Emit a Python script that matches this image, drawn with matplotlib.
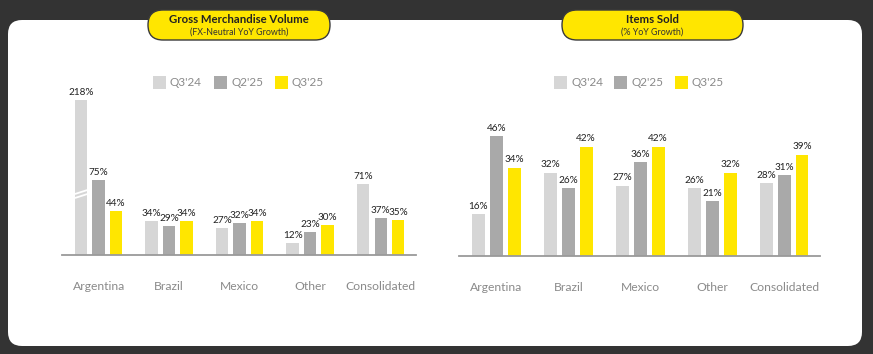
import matplotlib
matplotlib.use("Agg")
import matplotlib.pyplot as plt
from matplotlib.patches import FancyBboxPatch, Rectangle
import numpy as np

plt.rcParams['font.family'] = ['Lato', 'DejaVu Sans']

# ---- data ----
categories = ["Argentina", "Brazil", "Mexico", "Other", "Consolidated"]
series_names = ["Q3'24", "Q2'25", "Q3'25"]
series_colors = ["#D6D6D6", "#A9A9A9", "#FFE600"]

gmv_q3_24 = [218, 34, 27, 12, 71]
gmv_q2_25 = [75, 29, 32, 23, 37]
gmv_q3_25 = [44, 34, 34, 30, 35]

items_q3_24 = [16, 32, 27, 26, 28]
items_q2_25 = [46, 26, 36, 21, 31]
items_q3_25 = [34, 42, 42, 32, 39]

gmv_title = "Gross Merchandise Volume"
gmv_sub = "(FX-Neutral YoY Growth)"
items_title = "Items Sold"
items_sub = "(% YoY Growth)"

GMV_CAP = 155  # axis break for the tall Argentina bar

W, H = 873, 354
fig = plt.figure(figsize=(W / 100, H / 100), dpi=100)
fig.patch.set_facecolor("#333333")

# background layer in pixel coords
bg = fig.add_axes([0, 0, 1, 1], zorder=-1)
bg.set_xlim(0, W)
bg.set_ylim(H, 0)
bg.axis("off")
bg.add_patch(FancyBboxPatch((8, 20), 854, 326,
                            boxstyle="round,pad=0,rounding_size=14",
                            fc="white", ec="none"))


def pill(x0, x1, title, sub):
    bg.add_patch(FancyBboxPatch((x0, 10), x1 - x0, 30,
                                boxstyle="round,pad=0,rounding_size=15",
                                fc="#FFE600", ec="#3a3a3a", lw=1))
    cx = (x0 + x1) / 2
    bg.text(cx, 19.5, title, ha="center", va="center", fontsize=8.2,
            fontweight="bold", color="#222222")
    bg.text(cx, 32, sub, ha="center", va="center", fontsize=6.4,
            color="#333333")


def legend(xs):
    for x, name, c in zip(xs, series_names, series_colors):
        bg.add_patch(Rectangle((x, 76), 13, 13, fc=c, ec="none"))
        bg.text(x + 17, 83, name, ha="left", va="center", fontsize=8.5,
                color="#8a8a8a")


pill(148, 330, gmv_title, gmv_sub)
pill(562, 743, items_title, items_sub)
legend([153, 214, 275])
legend([554, 614, 675])


def panel(rect, ylim, data, off, width, cap=None):
    ax = fig.add_axes(rect)
    ax.set_facecolor("none")
    x = np.arange(len(categories))
    for i, (vals, c) in enumerate(zip(data, series_colors)):
        vals = np.array(vals, dtype=float)
        shown = np.minimum(vals, cap) if cap else vals
        xs = x + (i - 1) * off
        ax.bar(xs, shown, width, color=c, zorder=2)
        for xi, v, h in zip(xs, vals, shown):
            ax.annotate(f"{int(v)}%", (xi, h), xytext=(0, 2.5),
                        textcoords="offset points", ha="center", va="bottom",
                        fontsize=7.2, color="#222222", zorder=4)
            if cap and v > cap:
                # break marks
                for y0 in (57, 61):
                    ax.plot([xi - width / 2, xi + width / 2], [y0, y0 + 4],
                            color="white", lw=1.3, zorder=3,
                            solid_capstyle="butt")
    ax.set_xlim(-0.52, 4.5)
    ax.set_ylim(0, ylim)
    ax.set_xticks(x)
    ax.set_xticklabels(categories, fontsize=8.7, color="#8a8a8a")
    ax.tick_params(axis="x", length=0, pad=18.5)
    ax.set_yticks([])
    for s in ("left", "right", "top"):
        ax.spines[s].set_visible(False)
    ax.spines["bottom"].set_color("#9a9a9a")
    ax.spines["bottom"].set_linewidth(1.3)
    return ax


panel([62 / W, (H - 255) / H, 354 / W, 175 / H], 175,
      [gmv_q3_24, gmv_q2_25, gmv_q3_25], 0.248, 0.177, cap=GMV_CAP)
panel([459 / W, (H - 256) / H, 361 / W, 176 / H], 176 / 2.6,
      [items_q3_24, items_q2_25, items_q3_25], 0.25, 0.18)

fig.savefig("out.png", dpi=100, facecolor=fig.get_facecolor())
